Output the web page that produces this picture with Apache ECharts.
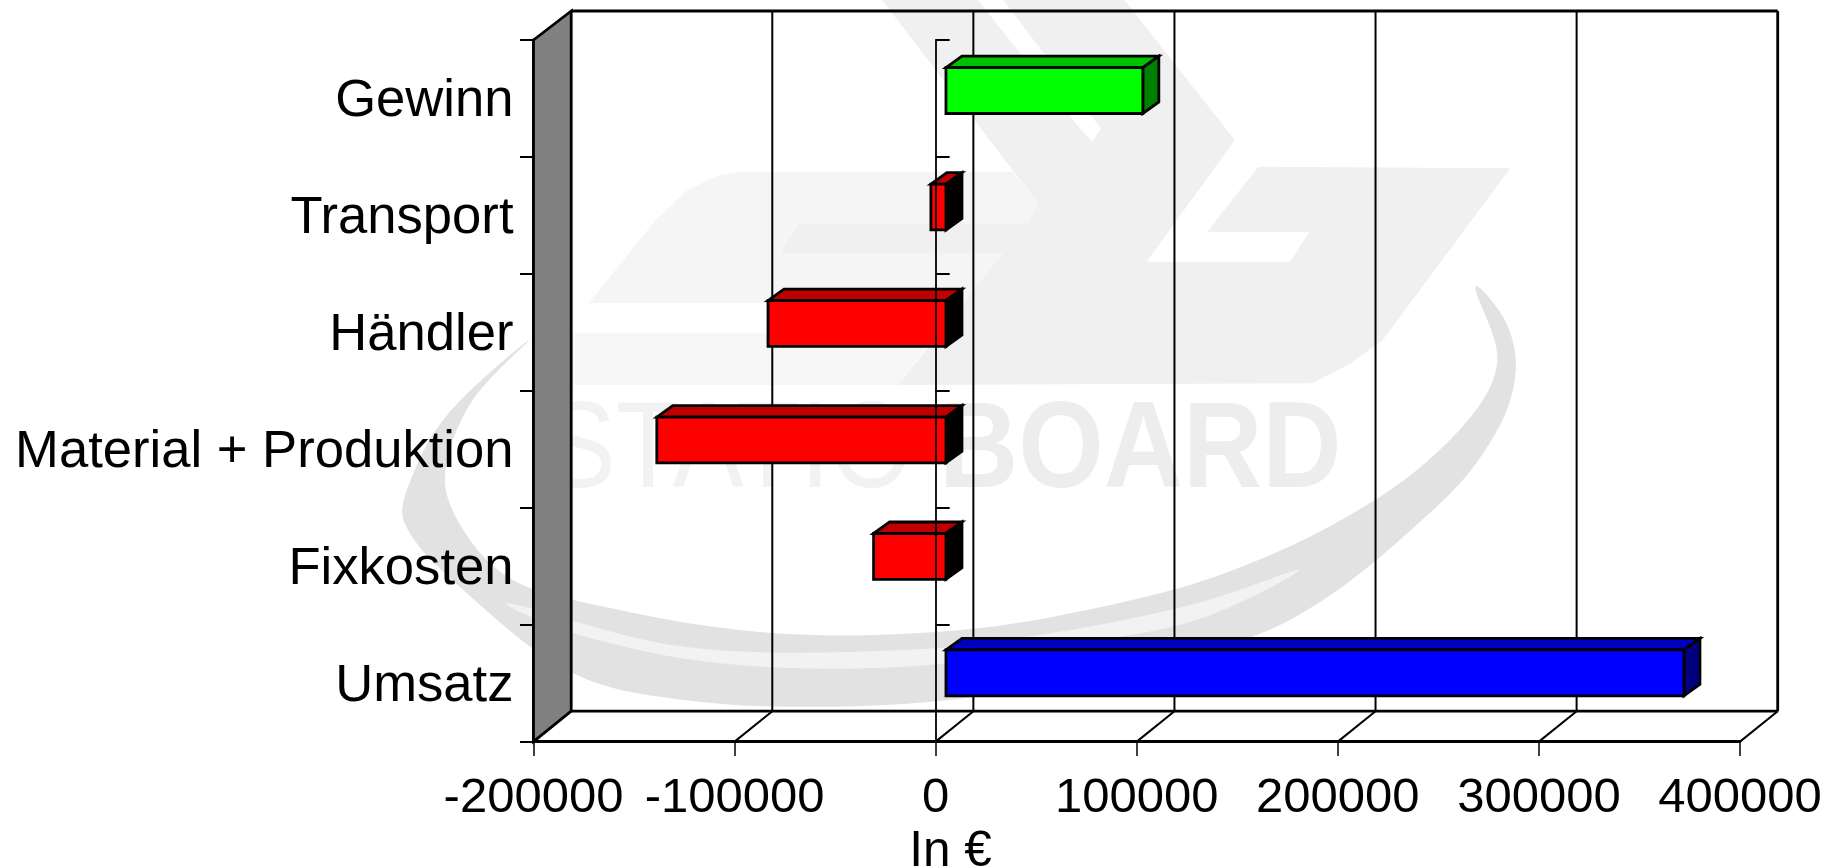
<!DOCTYPE html>
<html>
<head>
<meta charset="utf-8">
<style>html,body{margin:0;padding:0;background:#fff}#c{width:1836px;height:868px}</style>
<script src="https://cdn.jsdelivr.net/npm/echarts@6/dist/echarts.min.js"></script>
</head>
<body>
<div id="c"></div>
<script>
const categories = ['Umsatz', 'Fixkosten', 'Material + Produktion', 'Händler', 'Transport', 'Gewinn'];
const values = [367000, -36000, -143800, -88500, -7500, 97900];
const xTicks = [-200000, -100000, 0, 100000, 200000, 300000, 400000];
const axisName = 'In €';

// Pseudo-3D depth of the chart box and of the bars, in pixels
const BOX_DX = 37.7, BOX_DY_TOP = 29, BOX_DY_BOTTOM = 30.4;
const BAR_DX = 10.3, BAR_DY = 7.9, BAR_DY_STEP = 0.47, BAR_DEPTH_X = 16, BAR_DEPTH_Y = 11.5;
const BOLD = 2.8, THIN = 2;

// Background watermark outlines (decorative logo), in two crop coordinate systems
const logoMain = [[505,0],[655,0],[815,385],[835,425],[848,385],[695,0],[885,0],[1058,420],[920,785],[1145,785],[1175,695],[1015,695],[1095,500],[1490,505],[1290,1020],[1240,1090],[1180,1150],[530,1155],[695,760],[345,760],[375,670],[735,670],[750,610]];
const logoLeft = [[280,515],[710,515],[750,610],[735,670],[375,670],[345,760],[695,760],[640,910],[45,910],[150,660],[200,570],[250,525]];
const logoStrip = [[20,1000],[590,1000],[530,1155],[20,1155]];
const swoosh = [[1480,50],[1520,150],[1535,300],[1510,480],[1432,700],[1225,1052],[1000,1200],[800,1280],[600,1310],[400,1290],[250,1210],[100,960],[20,760],[30,620],[80,430],[190,210],[110,400],[75,620],[100,780],[160,920],[250,990],[500,1085],[750,1085],[950,1020],[1150,900],[1350,680],[1470,450],[1510,270]];
const swooshGap = [[160,1000],[400,1130],[700,1140],[900,1090],[1100,1000],[1240,900],[1100,1050],[900,1130],[700,1190],[450,1180],[250,1090]];

const fromA = p => [560 + p[0] / 1.568, p[1] / 3];
const fromB = p => [390 + p[0] / 1.3635, 270 + p[1] / 3];
const poly = (pts, map, fill, smooth) => ({
  type: 'polygon', z: -10, silent: true,
  shape: { points: pts.map(map), smooth: smooth || 0 },
  style: { fill: fill, stroke: null }
});

function faceColors(i, v) {
  if (i === 0) return { face: '#0000ff', top: '#0000c0', side: '#000080' };
  if (v < 0) return { face: '#ff0000', top: '#c00000', side: '#000000' };
  return { face: '#00ff00', top: '#00c000', side: '#008000' };
}

function renderFrame(params, api) {
  const g = params.coordSys;
  const l = g.x, r = g.x + g.width, t = g.y - BOX_DY_TOP, b = g.y + g.height - BOX_DY_BOTTOM;
  const fb = g.y + g.height;
  const line = (x1, y1, x2, y2, w) => ({
    type: 'line', shape: { x1, y1, x2, y2 },
    style: { stroke: '#000', lineWidth: w }
  });
  const kids = [{
    type: 'polygon',
    shape: { points: [[l, g.y], [l + BOX_DX, t], [l + BOX_DX, b], [l, fb]] },
    style: { fill: '#808080', stroke: '#000', lineWidth: BOLD }
  }];
  kids.push(line(l + BOX_DX, t, r + BOX_DX, t, BOLD));
  kids.push(line(r + BOX_DX, t, r + BOX_DX, b, BOLD));
  kids.push(line(l + BOX_DX, b, r + BOX_DX, b, BOLD));
  xTicks.forEach(v => {
    const x = api.coord([v, 0])[0];
    if (v !== xTicks[0] && v !== xTicks[xTicks.length - 1]) {
      kids.push(line(x + BOX_DX, t, x + BOX_DX, b, THIN));
    }
    kids.push(line(x, fb, x + BOX_DX, b, THIN));
  });
  return { type: 'group', children: kids };
}

function renderBar(params, api) {
  const i = api.value(0), v = api.value(1);
  const c = faceColors(i, v);
  const zero = api.coord([0, i]), end = api.coord([v, i]);
  const h = api.size([0, 1])[1] * 0.392;
  const x1 = Math.min(zero[0], end[0]) + BAR_DX, x2 = Math.max(zero[0], end[0]) + BAR_DX;
  const y1 = zero[1] - BAR_DY - BAR_DY_STEP * (categories.length - 1 - i) - h / 2, y2 = y1 + h;
  const dx = BAR_DEPTH_X, dy = BAR_DEPTH_Y;
  const st = fill => ({ fill, stroke: '#000', lineWidth: BOLD, lineJoin: 'miter' });
  return {
    type: 'group',
    children: [
      { type: 'polygon', shape: { points: [[x1, y1], [x1 + dx, y1 - dy], [x2 + dx, y1 - dy], [x2, y1]] }, style: st(c.top) },
      { type: 'polygon', shape: { points: [[x2, y1], [x2 + dx, y1 - dy], [x2 + dx, y2 - dy], [x2, y2]] }, style: st(c.side) },
      { type: 'rect', shape: { x: x1, y: y1, width: x2 - x1, height: h }, style: st(c.face) }
    ]
  };
}

const chart = echarts.init(document.getElementById('c'), null, { renderer: 'canvas' });
const FONT = '"Liberation Sans", Arial, sans-serif';
chart.setOption({
  animation: false,
  backgroundColor: '#fff',
  grid: { left: 533.5, top: 40, width: 1206.5, height: 701.6, containLabel: false },
  xAxis: {
    type: 'value', min: -200000, max: 400000, interval: 100000,
    splitLine: { show: false },
    axisLine: { show: true, lineStyle: { color: '#000', width: BOLD } },
    axisTick: { show: true, length: 14.5, lineStyle: { color: '#000', width: 1.5 } },
    axisLabel: { color: '#000', fontFamily: FONT, fontSize: 49, margin: 32, formatter: v => String(v), hideOverlap: false }
  },
  yAxis: [{
    type: 'category', data: categories,
    axisLine: { show: true, onZero: false, lineStyle: { color: '#000', width: BOLD } },
    axisTick: { show: true, length: 13.5, lineStyle: { color: '#000', width: 2 } },
    axisLabel: {
      margin: 20, interval: 0,
      formatter: v => '{a|' + v + '}',
      rich: { a: { color: '#000', fontFamily: FONT, fontSize: 52.6, padding: [7, 0, 0, 0] } }
    }
  }, {
    type: 'category', data: categories, z: 20,
    axisLine: { show: true, onZero: true, lineStyle: { color: '#000', width: 1.8 } },
    axisTick: { show: true, length: 14, lineStyle: { color: '#000', width: 2 } },
    axisLabel: { show: false }
  }],
  series: [
    { type: 'custom', z: 1, silent: true, data: [[0, 0]], encode: { x: 1, y: 0 }, renderItem: renderFrame },
    { type: 'custom', z: 3, silent: true, data: values.map((v, i) => [i, v]), encode: { x: 1, y: 0 }, renderItem: renderBar }
  ],
  graphic: { elements: [
    poly(logoStrip, fromA, '#f7f7f7'),
    poly(logoLeft, fromA, '#f5f5f5'),
    poly(logoMain, fromA, '#f0f0f0'),
    poly(swoosh, fromB, '#e2e2e2', 0.35),
    poly(swooshGap, fromB, '#f2f2f2', 0.35),
    { type: 'text', z: -9, silent: true, x: 545, y: 453, scaleX: 0.87,
      style: { text: 'STATIO', fill: '#f2f2f2', font: '122px ' + FONT, textVerticalAlign: 'middle' } },
    { type: 'text', z: -9, silent: true, x: 939, y: 453, scaleX: 0.9,
      style: { text: 'BOARD', fill: '#ededed', font: 'bold 122px ' + FONT, textVerticalAlign: 'middle' } },
    { type: 'text', z: 30, silent: true, x: 950.5, y: 852,
      style: { text: axisName, fill: '#000', font: '49.5px ' + FONT, textAlign: 'center', textVerticalAlign: 'middle' } }
  ] }
});
</script>
</body>
</html>
